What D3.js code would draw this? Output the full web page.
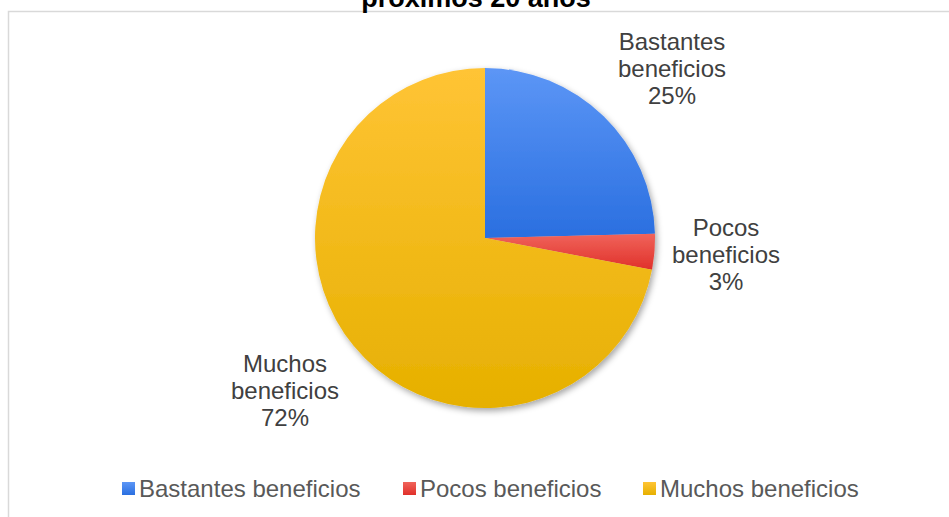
<!DOCTYPE html>
<html><head><meta charset="utf-8">
<script src="https://cdn.jsdelivr.net/npm/d3@7/dist/d3.min.js"></script>
<style>html,body{margin:0;padding:0;background:#fff;}svg{display:block;font-family:"Liberation Sans",Arial,sans-serif;}</style>
</head><body>
<svg id="chart" width="949" height="517"></svg>
<script>
const titleText = "próximos 20 años";
const categories = ["Bastantes beneficios", "Pocos beneficios", "Muchos beneficios"];
const values = [24.6, 3.4, 72.0];
const labelLines = [["Bastantes", "beneficios", "25%"], ["Pocos", "beneficios", "3%"], ["Muchos", "beneficios", "72%"]];
const colorsTop = ["#5c96f6", "#f0645b", "#ffc435"];
const colorsBottom = ["#2a6fe0", "#e0302a", "#e6b000"];

const svg = d3.select("#chart");
const W = 949, H = 517;
const cx = 485, cy = 238, R = 170;

const defs = svg.append("defs");
categories.forEach((c, i) => {
  const g = defs.append("linearGradient").attr("id", "grad" + i)
    .attr("x1", 0).attr("y1", 0).attr("x2", 0).attr("y2", 1);
  g.append("stop").attr("offset", "0%").attr("stop-color", colorsTop[i]);
  g.append("stop").attr("offset", "100%").attr("stop-color", colorsBottom[i]);
});
const f = defs.append("filter").attr("id", "shadow").attr("x", "-20%").attr("y", "-20%").attr("width", "140%").attr("height", "140%");
f.append("feDropShadow").attr("dx", 2).attr("dy", 3).attr("stdDeviation", 3).attr("flood-color", "#000").attr("flood-opacity", 0.35);

// frame
svg.append("path").attr("d", `M8.5,${H + 5}V11.5H${W + 5}`).attr("fill", "none").attr("stroke", "#d9d9d9").attr("stroke-width", 1.5);

// title (cut off at top, as in the reference)
svg.append("text").attr("x", 476).attr("y", 7).attr("text-anchor", "middle")
  .attr("font-size", 27).attr("font-weight", "bold").attr("fill", "#000").text(titleText);

const pie = d3.pie().sort(null).value(d => d);
const arcs = pie(values);
const arc = d3.arc().innerRadius(0).outerRadius(R);

const g = svg.append("g").attr("transform", `translate(${cx},${cy})`).attr("filter", "url(#shadow)");
g.selectAll("path").data(arcs).join("path")
  .attr("d", arc)
  .attr("fill", (d, i) => `url(#grad${i})`);

// data labels
const labelPos = [[672, 50], [726, 236], [285, 372]];
const lineH = 27;
labelLines.forEach((lines, i) => {
  const t = svg.append("text").attr("text-anchor", "middle").attr("font-size", 24).attr("fill", "#404040");
  lines.forEach((l, j) => {
    t.append("tspan").attr("x", labelPos[i][0]).attr("y", labelPos[i][1] + j * lineH).text(l);
  });
});

// legend
const legendX = [122, 403, 643];
const lg = svg.append("g");
categories.forEach((c, i) => {
  lg.append("rect").attr("x", legendX[i]).attr("y", 482).attr("width", 13).attr("height", 13)
    .attr("fill", `url(#grad${i})`);
  lg.append("text").attr("x", legendX[i] + 17).attr("y", 497).attr("font-size", 24).attr("fill", "#595959").text(c);
});
</script>
</body></html>
